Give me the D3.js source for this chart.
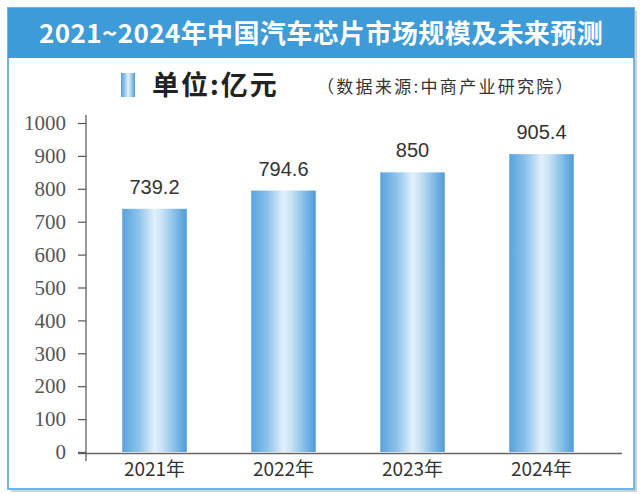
<!DOCTYPE html>
<html><head><meta charset="utf-8">
<script src="https://cdn.jsdelivr.net/npm/d3@7"></script>
<style>body{margin:0;background:#fff}svg{display:block}</style>
</head><body>
<svg id="chart" width="643" height="494"></svg>
<script>
const title = "2021~2024年中国汽车芯片市场规模及未来预测";
const unitLabel = "单位:亿元";
const sourceLabel = "（数据来源:中商产业研究院）";
const categories = ["2021年", "2022年", "2023年", "2024年"];
const values = [739.2, 794.6, 850, 905.4];
const valueLabels = ["739.2", "794.6", "850", "905.4"];
const yTicks = [0, 100, 200, 300, 400, 500, 600, 700, 800, 900, 1000];

const svg = d3.select("#chart");
const defs = svg.append("defs");
const g = defs.append("linearGradient").attr("id","barGrad").attr("x1","0").attr("x2","1").attr("y1","0").attr("y2","0");
[[0,"#57a3dc"],[0.25,"#8cc2ea"],[0.5,"#e2f0fb"],[0.62,"#c8e2f5"],[0.85,"#7ab8e6"],[1,"#4f9bd7"]].forEach(([o,c])=>g.append("stop").attr("offset",o).attr("stop-color",c));

// shadow + frame
svg.append("rect").attr("x",11).attr("y",11).attr("width",626).attr("height",481).attr("fill","#d0d0d0");
svg.append("rect").attr("x",8).attr("y",8).attr("width",626).attr("height",481).attr("fill","#fff").attr("stroke","#6fb6e0").attr("stroke-width",2);
svg.append("rect").attr("x",8).attr("y",8).attr("width",626).attr("height",50).attr("fill","#3d9bd8");
svg.append("text").attr("x",321).attr("y",43).attr("text-anchor","middle").attr("fill","#fff")
  .style("font-family","'Noto Sans CJK SC', sans-serif").style("font-weight","bold").style("font-size","26px")
  .style("letter-spacing","0.4px").text(title);

// legend
svg.append("rect").attr("x",121).attr("y",73).attr("width",14).attr("height",24).attr("fill","url(#barGrad)");
svg.append("text").attr("x",152).attr("y",95).attr("fill","#222").style("font-family","'Noto Sans CJK SC', sans-serif")
  .style("font-weight","bold").style("font-size","27px").style("letter-spacing","2px").text(unitLabel);
svg.append("text").attr("x",317).attr("y",93).attr("fill","#333").style("font-family","'Noto Sans CJK SC', serif")
  .style("font-size","17px").style("letter-spacing","2.3px").text(sourceLabel);

const y = d3.scaleLinear().domain([0,1000]).range([452,123]);
const x = d3.scaleBand().domain(categories).range([90,606]).paddingInner(0.5).paddingOuter(0.25);

// y axis
const yAxis = svg.append("g").attr("transform","translate(86,0)")
  .call(d3.axisLeft(y).tickValues(yTicks).tickFormat(d3.format("d")).tickSize(8).tickPadding(12));
yAxis.select(".domain").remove();
yAxis.selectAll(".tick line").attr("stroke","#555").attr("stroke-width",1.2);
yAxis.selectAll(".tick text").attr("fill","#555")
  .style("font-family","'Liberation Serif', 'DejaVu Serif', serif").style("font-size","21px");
svg.append("line").attr("x1",86).attr("x2",86).attr("y1",115).attr("y2",461).attr("stroke","#555").attr("stroke-width",1.2);

// bars
svg.selectAll("rect.bar").data(values).join("rect").attr("class","bar")
  .attr("x",(d,i)=>x(categories[i])).attr("width",x.bandwidth())
  .attr("y",d=>y(d)).attr("height",d=>y(0)-y(d)).attr("fill","url(#barGrad)");

svg.selectAll("text.val").data(values).join("text").attr("class","val")
  .attr("x",(d,i)=>x(categories[i])+x.bandwidth()/2).attr("y",d=>y(d)-15)
  .attr("text-anchor","middle").attr("fill","#333").style("font-family","'Liberation Sans', Arial, sans-serif").style("font-size","20px")
  .text((d,i)=>valueLabels[i]);

// x axis
const xAxis = svg.append("g").attr("transform","translate(0,453)")
  .call(d3.axisBottom(x).tickSize(0).tickPadding(10));
xAxis.select(".domain").remove();
xAxis.selectAll(".tick text").attr("fill","#333").style("font-family","'Noto Sans CJK SC', sans-serif").style("font-size","19px");
svg.append("line").attr("x1",78).attr("x2",622).attr("y1",453.5).attr("y2",453.5).attr("stroke","#666").attr("stroke-width",1.3);
</script>
</body></html>
